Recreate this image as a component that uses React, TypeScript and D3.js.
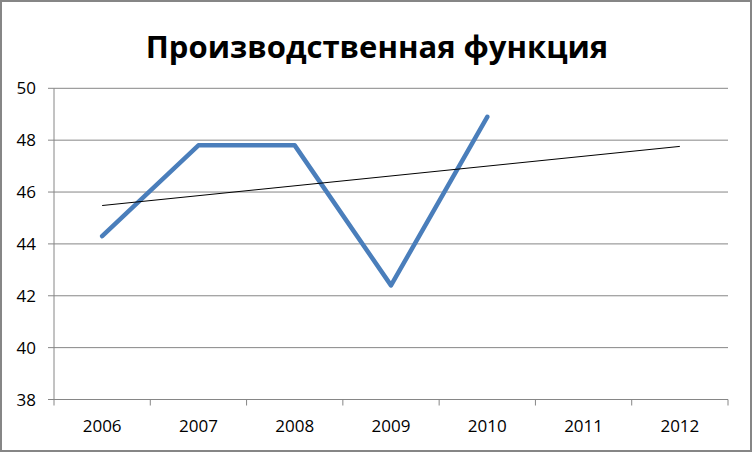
import React from "react";
import * as d3 from "d3";

const categories = ["2006", "2007", "2008", "2009", "2010", "2011", "2012"];
const values: (number | null)[] = [44.3, 47.8, 47.8, 42.4, 48.9, null, null];
const yTicks = [38, 40, 42, 44, 46, 48, 50];
const title = "Производственная функция";

const W = 752, H = 452;
const M = { left: 54, right: 728, top: 88.3, bottom: 399.5 };

export default function App() {
  const x = d3.scaleBand<string>().domain(categories).range([M.left, M.right]).paddingInner(0).paddingOuter(0);
  const y = d3.scaleLinear().domain([38, 50]).range([M.bottom, M.top]);
  const cx = (c: string) => (x(c) as number) + x.bandwidth() / 2;

  const pts = categories
    .map((c, i) => ({ c, v: values[i], i }))
    .filter((d) => d.v != null) as { c: string; v: number; i: number }[];
  const line = d3.line<{ c: string; v: number }>().x((d) => cx(d.c)).y((d) => y(d.v));

  // linear trendline (least squares), forecast to last category
  const mx = d3.mean(pts, (d) => d.i + 1) as number;
  const my = d3.mean(pts, (d) => d.v) as number;
  const slope =
    (d3.sum(pts, (d) => (d.i + 1 - mx) * (d.v - my)) as number) /
    (d3.sum(pts, (d) => (d.i + 1 - mx) ** 2) as number);
  const trend = (k: number) => my + slope * (k - mx);
  const tStart = { c: categories[0], v: trend(1) };
  const tEnd = { c: categories[categories.length - 1], v: trend(categories.length) };

  const boundaries = categories.map((c) => x(c) as number).concat([M.right]);
  const font = "'Open Sans', 'DejaVu Sans', sans-serif";

  return (
    <svg width={W} height={H} style={{ position: "absolute", left: 0, top: 0 }}>
      <rect x={0} y={0} width={W} height={H} fill="#fff" />
      <rect x={1} y={1} width={W - 2} height={H - 2} fill="none" stroke="#868686" strokeWidth={2} />
      <text x={377} y={58} textAnchor="middle" fontFamily={font} fontWeight="bold" fontSize={31} fill="#000">
        {title}
      </text>
      {yTicks.map((t) => (
        <g key={t}>
          <line x1={M.left - 6} x2={M.right} y1={y(t)} y2={y(t)} stroke="#868686" strokeWidth={1} />
          <text x={36} y={y(t) + 6} textAnchor="end" fontFamily={font} fontSize={17} fill="#000">
            {t}
          </text>
        </g>
      ))}
      <line x1={M.left} x2={M.left} y1={M.top} y2={M.bottom} stroke="#868686" strokeWidth={1} />
      {boundaries.map((b, i) => (
        <line key={i} x1={b} x2={b} y1={M.bottom} y2={M.bottom + 6} stroke="#868686" strokeWidth={1} />
      ))}
      {categories.map((c) => (
        <text key={c} x={cx(c)} y={432} textAnchor="middle" fontFamily={font} fontSize={17} fill="#000">
          {c}
        </text>
      ))}
      <path d={line(pts) || ""} fill="none" stroke="#4A7EBB" strokeWidth={4.5} strokeLinejoin="round" strokeLinecap="round" />
      <line x1={cx(tStart.c)} y1={y(tStart.v)} x2={cx(tEnd.c)} y2={y(tEnd.v)} stroke="#000" strokeWidth={1} />
    </svg>
  );
}
